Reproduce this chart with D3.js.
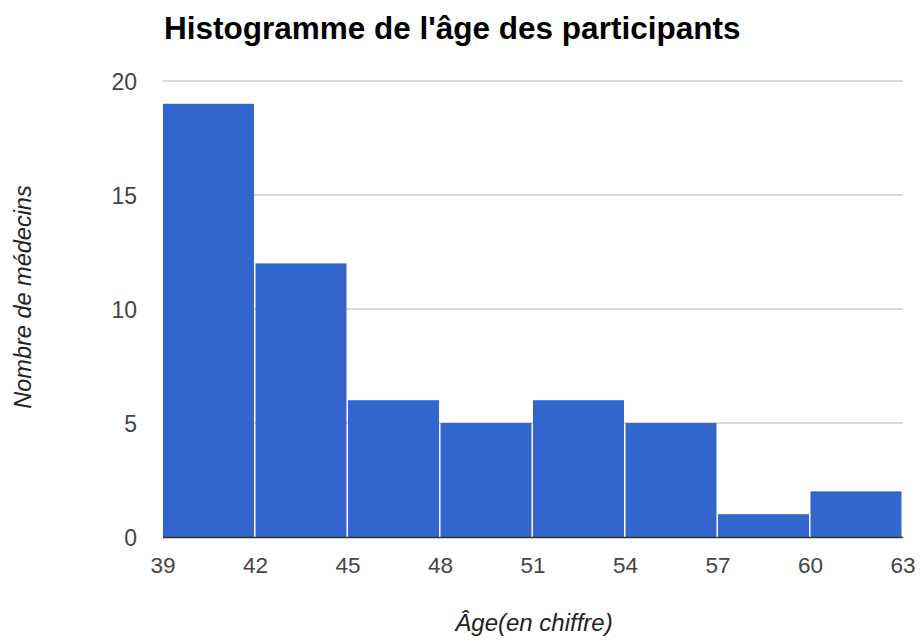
<!DOCTYPE html>
<html>
<head>
<meta charset="utf-8">
<script src="https://cdn.jsdelivr.net/npm/d3@7/dist/d3.min.js"></script>
<style>
  body { margin: 0; background: #fff; }
  text { font-family: "Liberation Sans", Arial, sans-serif; }
</style>
</head>
<body>
<svg id="chart" width="920" height="641"></svg>
<script>
// bins of the histogram (age in years) and counts
const binStarts = [39, 42, 45, 48, 51, 54, 57, 60];
const binWidth = 3;
const counts = [19, 12, 6, 5, 6, 5, 1, 2];
const xTicks = [39, 42, 45, 48, 51, 54, 57, 60, 63];
const yTicks = [0, 5, 10, 15, 20];

const svg = d3.select("#chart");
const plotLeft = 163, plotRight = 903, plotTop = 81, plotBottom = 537;

let x = d3.scaleLinear().domain([39, 63]).range([plotLeft, plotRight]);
let y = d3.scaleLinear().domain([0, 20]).range([plotBottom, plotTop]);

// gridlines
svg.append("g")
  .selectAll("line")
  .data(yTicks.slice(1))
  .enter().append("line")
  .attr("x1", plotLeft).attr("x2", plotRight)
  .attr("y1", d => y(d)).attr("y2", d => y(d))
  .attr("stroke", "#cccccc")
  .attr("stroke-width", 1.3);

// bars
svg.append("g")
  .selectAll("rect")
  .data(binStarts)
  .enter().append("rect")
  .attr("x", d => x(d))
  .attr("width", d => x(d + binWidth) - x(d) - 1.5)
  .attr("y", (d, i) => y(counts[i]))
  .attr("height", (d, i) => y(0) - y(counts[i]))
  .attr("fill", "#3366cc");

// baseline
svg.append("line")
  .attr("x1", plotLeft).attr("x2", plotRight)
  .attr("y1", y(0) + 0.5).attr("y2", y(0) + 0.5)
  .attr("stroke", "#333333")
  .attr("stroke-width", 1.5);

// y tick labels
svg.append("g")
  .selectAll("text")
  .data(yTicks)
  .enter().append("text")
  .attr("x", 137)
  .attr("y", d => y(d) + 8.5)
  .attr("text-anchor", "end")
  .attr("font-size", 23)
  .attr("fill", "#444")
  .text(d => d);

// x tick labels
svg.append("g")
  .selectAll("text")
  .data(xTicks)
  .enter().append("text")
  .attr("x", d => x(d))
  .attr("y", 573)
  .attr("text-anchor", "middle")
  .attr("font-size", 22.5)
  .attr("fill", "#444")
  .text(d => d);

// title
svg.append("text")
  .attr("x", 164)
  .attr("y", 38.5)
  .attr("font-size", 31.5)
  .attr("font-weight", "bold")
  .attr("fill", "#000")
  .text("Histogramme de l'âge des participants");

// axis titles
svg.append("text")
  .attr("x", 534)
  .attr("y", 631)
  .attr("text-anchor", "middle")
  .attr("font-size", 24)
  .attr("font-style", "italic")
  .attr("fill", "#222")
  .text("Âge(en chiffre)");

svg.append("text")
  .attr("transform", "translate(31,297) rotate(-90)")
  .attr("text-anchor", "middle")
  .attr("font-size", 23.5)
  .attr("font-style", "italic")
  .attr("fill", "#222")
  .text("Nombre de médecins");
</script>
</body>
</html>
